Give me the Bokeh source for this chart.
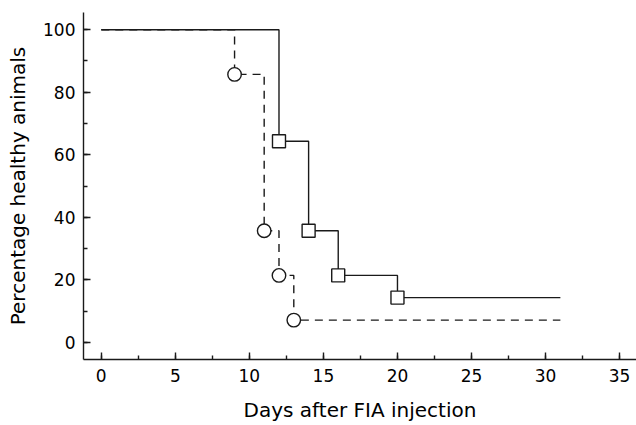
from bokeh.plotting import figure
from bokeh.models import Range1d, SingleIntervalTicker
from bokeh.embed import file_html
from bokeh.resources import INLINE

# Data (Kaplan-Meier style steps)
days_solid = [0, 12, 14, 16, 20, 31]
pct_solid = [100, 64.3, 35.7, 21.4, 14.3, 14.3]
days_dashed = [0, 9, 11, 12, 13, 31]
pct_dashed = [100, 85.7, 35.7, 21.4, 7.1, 7.1]

x_label = "Days after FIA injection"
y_label = "Percentage healthy animals"

INK = "#1a1a1a"
FONT = "DejaVu Sans"

p = figure(width=636, height=425, output_backend="svg", toolbar_location=None,
           x_range=Range1d(-1.2, 36.14), y_range=Range1d(-5.5, 105.5),
           min_border_left=83, min_border_right=0, min_border_top=12,
           min_border_bottom=66)
p.outline_line_color = None
p.xgrid.visible = False
p.ygrid.visible = False
p.background_fill_color = "white"
p.border_fill_color = "white"

# Step lines
p.step(days_solid, pct_solid, mode="after", line_color=INK, line_width=1.4)
p.step(days_dashed, pct_dashed, mode="after", line_color=INK, line_width=1.4,
       line_dash="8 6")

# Markers at the drop points
p.scatter(days_solid[1:-1], pct_solid[1:-1], marker="square", size=13,
          fill_color="white", line_color=INK, line_width=1.4)
p.scatter(days_dashed[1:-1], pct_dashed[1:-1], marker="circle", size=13.5,
          fill_color="white", line_color=INK, line_width=1.4)

p.xaxis.ticker = SingleIntervalTicker(interval=5, num_minor_ticks=2)
p.yaxis.ticker = SingleIntervalTicker(interval=20, num_minor_ticks=2)
p.xaxis.axis_label = x_label
p.yaxis.axis_label = y_label

for ax in (p.xaxis, p.yaxis):
    ax.axis_line_color = INK
    ax.axis_line_width = 1.4
    ax.major_tick_line_color = INK
    ax.minor_tick_line_color = INK
    ax.major_tick_line_width = 1.4
    ax.minor_tick_line_width = 1.4
    ax.major_tick_in = 7
    ax.major_tick_out = 0
    ax.minor_tick_in = 4
    ax.minor_tick_out = 0
    ax.major_label_text_font = FONT
    ax.major_label_text_font_size = "17px"
    ax.major_label_text_color = "#000000"
    ax.axis_label_text_font = FONT
    ax.axis_label_text_font_size = "20px"
    ax.axis_label_text_font_style = "normal"
    ax.axis_label_text_color = "#000000"

p.xaxis.major_label_standoff = 9
p.xaxis.axis_label_standoff = 13
p.yaxis.major_label_standoff = 8
p.yaxis.axis_label_standoff = 10

open("out.html", "w").write(file_html(p, INLINE))
